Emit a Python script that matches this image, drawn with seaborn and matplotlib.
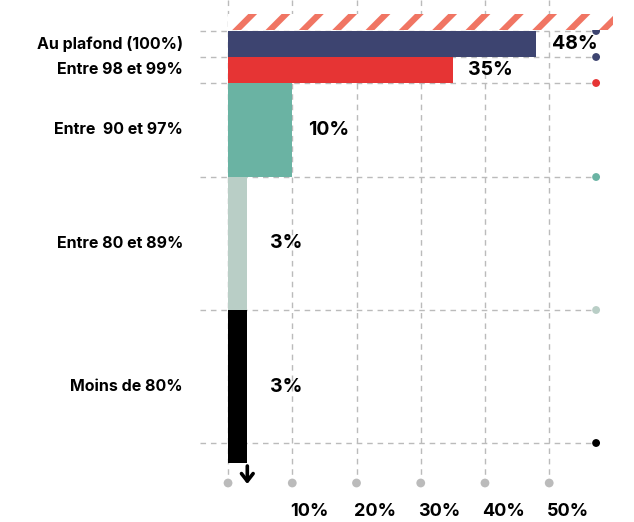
import numpy as np
import pandas as pd
import matplotlib
matplotlib.use("Agg")
import matplotlib.pyplot as plt
import seaborn as sns

# data
categories = ["Au plafond (100%)", "Entre 98 et 99%", "Entre  90 et 97%",
              "Entre 80 et 89%", "Moins de 80%"]
shares = [48, 35, 10, 3, 3]
bar_colors = ["#3d4470", "#e63434", "#6ab3a3", "#b9cec6", "#000000"]
tick_values = [10, 20, 30, 40, 50]
hatch_value = 60

# layout (y in pixel-like units, top to bottom)
band_tops = [31, 57, 83, 177, 310]
band_bottoms = [57, 83, 177, 310, 463]
grid_rows = [31, 57, 83, 177, 310, 443]
row_dot_colors = ["#3d4470", "#3d4470", "#e63434", "#6ab3a3", "#b9cec6", "#000000"]

sns.set_theme(style="white")
plt.rcParams["font.family"] = ["Inter", "DejaVu Sans"]
plt.rcParams["hatch.linewidth"] = 4.5

fig = plt.figure(figsize=(6.34, 5.22), dpi=100)
ax = fig.add_axes([0, 0, 1, 1])

grid_col = "#bbbbbb"
x_right = 57.3

# main bars (seaborn), then move each one to its band
df = pd.DataFrame({"cat": categories, "share": shares})
sns.barplot(data=df, x="share", y="cat", hue="cat", palette=bar_colors, legend=False,
            orient="h", saturation=1, linewidth=0, ax=ax)
patches = [p for c in ax.containers for p in c]
for p, t, b in zip(patches, band_tops, band_bottoms):
    p.set_y(t)
    p.set_height(b - t)
    p.set_zorder(3)

# vertical gridlines + bottom dots
for v in [0] + tick_values:
    ax.plot([v, v], [0, 478], color=grid_col, lw=1, ls=(0, (4, 3.5)), zorder=0)
sns.scatterplot(x=[0] + tick_values, y=[483] * 6, color=grid_col, s=40,
                edgecolor="none", ax=ax, zorder=1)

# horizontal gridlines + coloured end dots
for y in grid_rows:
    ax.plot([-4.4, x_right], [y, y], color=grid_col, lw=1, ls=(0, (4, 3.5)), zorder=0)
sns.scatterplot(x=[x_right] * len(grid_rows), y=grid_rows, hue=list(range(len(grid_rows))),
                palette=row_dot_colors, legend=False, s=32, edgecolor="none", ax=ax, zorder=1)

# hatched "ceiling" bar
ax.barh(22, hatch_value, height=16, left=0, facecolor="white", edgecolor="#f07563",
        linewidth=0, hatch="/", zorder=2)

# labels
for cat, v, t, b in zip(categories, shares, band_tops, band_bottoms):
    mid = (t + b) / 2
    ax.text(-7.0, mid, cat, ha="right", va="center", fontsize=11.5, fontweight="bold",
            color="black")
    off = 2.4 if v > 5 else 6.5 - v
    ax.text(v + off, mid, f"{v}%", ha="left", va="center", fontsize=14,
            fontweight="bold", color="black")

ax.annotate("", xy=(shares[-1], 484), xytext=(shares[-1], 466),
            arrowprops=dict(arrowstyle="->,head_length=0.45,head_width=0.35",
                            lw=2.6, color="black", shrinkA=0, shrinkB=0))

for v in tick_values:
    ax.text(v - 0.4, 511, f"{v}%", ha="left", va="center", fontsize=13,
            fontweight="bold", color="black")

ax.set_xlim(-35.5, 63.2)
ax.set_ylim(522, 0)
ax.set_xlabel("")
ax.set_ylabel("")
ax.set_xticks([])
ax.set_yticks([])
for s in ax.spines.values():
    s.set_visible(False)

fig.savefig("out.png", dpi=100)
